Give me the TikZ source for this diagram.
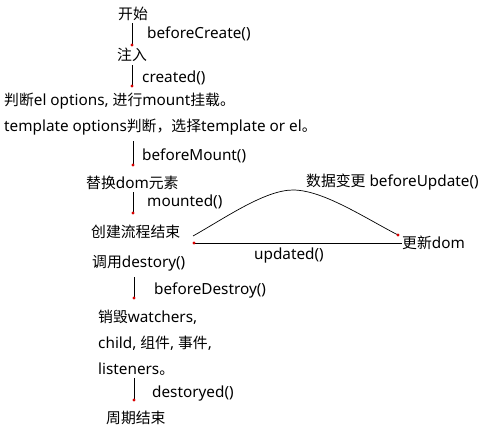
\documentclass[tikz,border=0pt]{standalone}
\usepackage{fontspec}
\setmainfont{Noto Sans}
\newfontfamily\cjk{Noto Sans CJK SC}[Scale=0.97]
\begin{document}
\begin{tikzpicture}[x=1pt,y=-1pt,
  lbl/.style={anchor=west,inner sep=0pt,font=\fontsize{15.3}{17}\selectfont},
  flow/.style={draw=black,line width=0.8pt},
  enddot/.style={circle,fill=red!85!black,inner sep=0pt,minimum size=3.2pt}]
\useasboundingbox[fill=white] (0,0) rectangle (495,431);
% state texts
\node[lbl] (start) at (118,14) {\cjk 开始};
\node[lbl] (inject) at (117,55) {\cjk 注入};
\node[lbl] (judge1) at (4,101) {{\cjk 判断}el options, {\cjk 进行}mount{\cjk 挂载。}};
\node[lbl] (judge2) at (4,127) {template options{\cjk 判断，选择}template or el{\cjk 。}};
\node[lbl] (replace) at (86,183) {{\cjk 替换}dom{\cjk 元素}};
\node[lbl] (done) at (91,232) {\cjk 创建流程结束};
\node[lbl] (update) at (402,243) {{\cjk 更新}dom};
\node[lbl] (call) at (92,263) {{\cjk 调用}destory()};
\node[lbl] (destroy1) at (98,317) {{\cjk 销毁}watchers,};
\node[lbl] (destroy2) at (98,343) {child, {\cjk 组件}, {\cjk 事件},};
\node[lbl] (destroy3) at (98,369) {listeners{\cjk 。}};
\node[lbl] (endp) at (106,418) {\cjk 周期结束};
% hook labels
\node[lbl] (bc) at (147,34) {beforeCreate()};
\node[lbl] (cr) at (142,78) {created()};
\node[lbl] (bm) at (142,156) {beforeMount()};
\node[lbl] (mo) at (147,202) {mounted()};
\node[lbl] (bu) at (306,182) {{\cjk 数据变更} beforeUpdate()};
\node[lbl] (up) at (254,256) {updated()};
\node[lbl] (bd) at (154,290) {beforeDestroy()};
\node[lbl] (de) at (152,394) {destoryed()};
% connector endpoints
\coordinate (a1) at (132,23); \coordinate (a2) at (132,45);
\coordinate (b1) at (132,65); \coordinate (b2) at (132,86);
\coordinate (c1) at (133,141); \coordinate (c2) at (133,165);
\coordinate (d1) at (133,192); \coordinate (d2) at (133,213);
\coordinate (e1) at (134,277); \coordinate (e2) at (134,298);
\coordinate (f1) at (134,378); \coordinate (f2) at (134,400);
\coordinate (u1) at (193,236); \coordinate (u2) at (398,235);
\coordinate (v1) at (194,243); \coordinate (v2) at (402,243);
% vertical connectors
\foreach \p/\q in {a1/a2,b1/b2,c1/c2,d1/d2,e1/e2,f1/f2}{
  \draw[flow] (\p) -- (\q);
  \node[enddot] at (\q) {};
}
% update loop
\draw[flow,line width=0.7pt] (u1) .. controls (225,218) and (265,190) .. (293,190)
  .. controls (323,190) and (365,218) .. (u2);
\node[enddot] at (u2) {};
\draw[flow] (v1) -- (v2);
\node[enddot] at (v1) {};
\end{tikzpicture}
\end{document}
